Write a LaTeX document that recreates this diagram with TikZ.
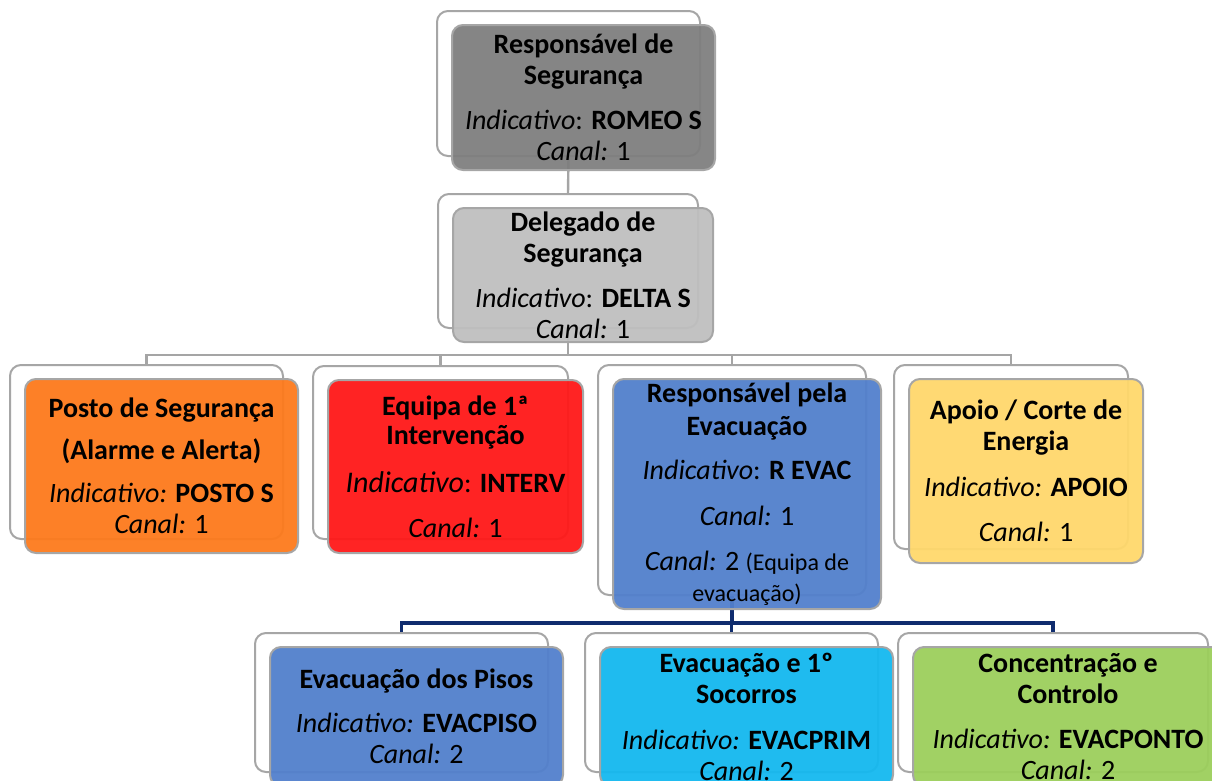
\documentclass[tikz,border=0pt]{standalone}
\usepackage{fontspec}
\setmainfont{Carlito}
\usetikzlibrary{positioning}

\definecolor{framegray}{HTML}{A6A6A6}
\definecolor{linegray}{HTML}{A5A5A5}
\definecolor{navyline}{HTML}{0F2C6E}
\definecolor{rsgray}{HTML}{7F7F7F}
\definecolor{dsgray}{HTML}{BFBFBF}
\definecolor{postoorange}{HTML}{FD7A1C}
\definecolor{intervred}{HTML}{FF1818}
\definecolor{evacblue}{HTML}{5280CC}
\definecolor{apoioyellow}{HTML}{FFD86C}
\definecolor{primcyan}{HTML}{14B8EF}
\definecolor{pontogreen}{HTML}{9CCF5C}

\begin{document}
\begin{tikzpicture}[
    x=1pt, y=-1pt,
    font=\fontsize{28}{31}\selectfont,
    backframe/.style={draw=framegray, line width=2pt, rounded corners=11pt, fill=white, inner sep=0pt},
    unitbox/.style={draw=framegray, line width=2pt, rounded corners=11pt, fill opacity=0.95, text opacity=1, align=center, inner sep=0pt},
    link/.style={draw=linegray, line width=2.4pt},
    sublink/.style={draw=navyline, line width=3.4pt}
]
    \useasboundingbox (0,0) rectangle (1212,780);
    \clip (0,0) rectangle (1212,780);

    % Back frames
    \node[backframe, minimum width=263, minimum height=145] (rs-b) at (568.5,83.5) {};
    \node[backframe, minimum width=260, minimum height=134] (ds-b) at (568,261) {};
    \node[backframe, minimum width=273, minimum height=174] (ps-b) at (146.5,452) {};
    \node[backframe, minimum width=255, minimum height=173] (ei-b) at (440.5,452.5) {};
    \node[backframe, minimum width=268, minimum height=230] (re-b) at (732,480) {};
    \node[backframe, minimum width=234, minimum height=184] (ap-b) at (1011,457) {};
    \node[backframe, minimum width=293, minimum height=139] (ep-b) at (401.5,702.5) {};
    \node[backframe, minimum width=293, minimum height=139] (es-b) at (731.5,702.5) {};
    \node[backframe, minimum width=310, minimum height=139] (cc-b) at (1053,702.5) {};

    % Connectors
    \draw[link] (rs-b.south) -- (ds-b.north);
    \draw[link] (ds-b.south) -- ++(0,26) coordinate (bus1);
    \draw[link] (bus1) -| (ps-b.north);
    \draw[link] (bus1) -| (ei-b.north);
    \draw[link] (bus1) -| (re-b.north);
    \draw[link] (bus1) -| (ap-b.north);
    \draw[sublink] (re-b.south) -- ++(0,27) coordinate (bus2);
    \draw[sublink] (bus2) -| (ep-b.north);
    \draw[sublink] (bus2) -| (es-b.north);
    \draw[sublink] (bus2) -| (cc-b.north);

    % Units
    \node[unitbox, fill=rsgray, minimum width=263, minimum height=145] (rs) at ([shift={(15,14)}]rs-b.center)
        {\textbf{Responsável de}\\\textbf{Segurança}\\[14pt]\textit{Indicativo}: \textbf{ROMEO S}\\\textit{Canal:} 1};
    \node[unitbox, fill=dsgray, minimum width=260, minimum height=134] (ds) at ([shift={(15,14)}]ds-b.center)
        {\textbf{Delegado de}\\\textbf{Segurança}\\[14pt]\textit{Indicativo}: \textbf{DELTA S}\\\textit{Canal:} 1};
    \node[unitbox, fill=postoorange, minimum width=273, minimum height=174] (ps) at ([shift={(15,14)}]ps-b.center)
        {\textbf{Posto de Segurança}\\[11pt]\textbf{(Alarme e Alerta)}\\[12pt]\textit{Indicativo:} \textbf{POSTO S}\\\textit{Canal:} 1};
    \node[unitbox, fill=intervred, minimum width=255, minimum height=173] (ei) at ([shift={(15,14)}]ei-b.center)
        {\textbf{Equipa de 1ª}\\[-2pt]\textbf{Intervenção}\\[17pt]{\fontsize{30}{31}\selectfont\textit{Indicativo}}: \textbf{INTERV}\\[14pt]\textit{Canal:} 1};
    \node[unitbox, fill=evacblue, minimum width=268, minimum height=230] (re) at ([shift={(15,14)}]re-b.center)
        {\textbf{Responsável pela}\\[2pt]\textbf{Evacuação}\\[13pt]\textit{Indicativo}: \textbf{R EVAC}\\[15pt]\textit{Canal:} 1\\[14pt]\textit{Canal:} 2 {\fontsize{24}{29}\selectfont(Equipa de}\\{\fontsize{24}{29}\selectfont evacuação)}};
    \node[unitbox, fill=apoioyellow, minimum width=234, minimum height=184] (ap) at ([shift={(15,14)}]ap-b.center)
        {\textbf{Apoio / Corte de}\\\textbf{Energia}\\[15pt]\textit{Indicativo:} \textbf{APOIO}\\[14pt]\textit{Canal:} 1};
    \node[unitbox, fill=evacblue, minimum width=293, minimum height=139] (ep) at ([shift={(15,14)}]ep-b.center)
        {\textbf{Evacuação dos Pisos}\\[13pt]\textit{Indicativo:} \textbf{EVACPISO}\\\textit{Canal:} 2};
    \node[unitbox, fill=primcyan, minimum width=293, minimum height=139] (es) at ([shift={(15,14)}]es-b.center)
        {\textbf{Evacuação e 1º}\\\textbf{Socorros}\\[15pt]\textit{Indicativo:} \textbf{EVACPRIM}\\\textit{Canal:} 2};
    \node[unitbox, fill=pontogreen, minimum width=310, minimum height=139] (cc) at ([shift={(15,14)}]cc-b.center)
        {\textbf{Concentração e}\\\textbf{Controlo}\\[14pt]\textit{Indicativo:} \textbf{EVACPONTO}\\\textit{Canal:} 2};

\end{tikzpicture}
\end{document}
